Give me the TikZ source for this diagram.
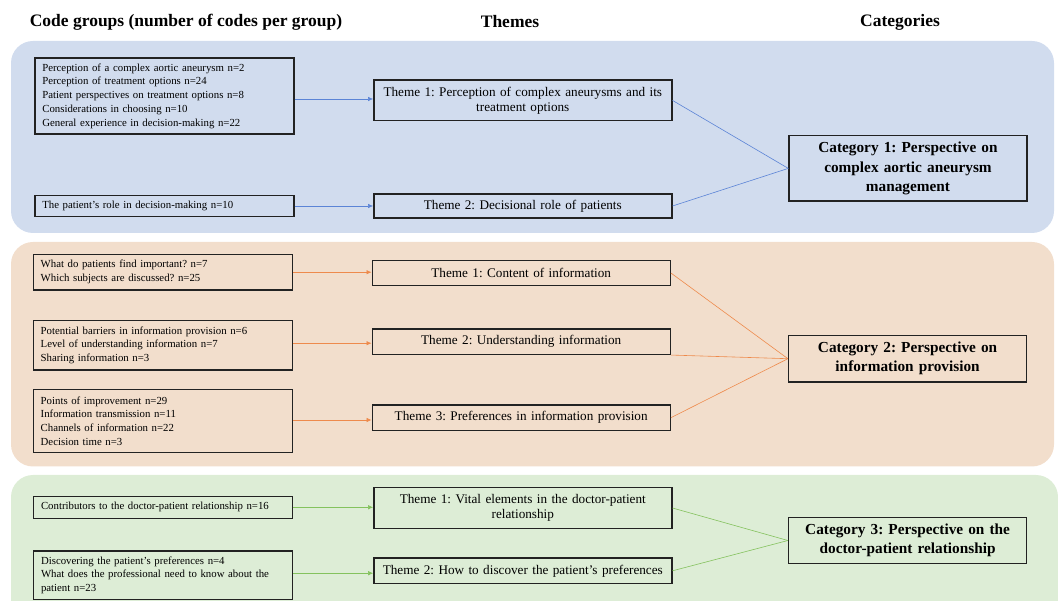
\documentclass[tikz,border=0pt]{standalone}
\usepackage{fontspec}
\setmainfont{Liberation Serif}
\usetikzlibrary{arrows.meta}
\frenchspacing

\definecolor{panelblue}{HTML}{D1DCEE}
\definecolor{panelorange}{HTML}{F2DECC}
\definecolor{panelgreen}{HTML}{DDEDD6}
\definecolor{lineblue}{HTML}{5B84D6}
\definecolor{lineorange}{HTML}{EE8A4C}
\definecolor{linegreen}{HTML}{84C25E}
\definecolor{boxline}{HTML}{222222}

\begin{document}
\begin{tikzpicture}[
    x=1pt,
    y=-1pt,
    panel/.style={
        rounded corners=22pt,
        draw=none,
        },
    codebox/.style={
        rectangle,
        draw=boxline,
        line width=1.4pt,
        text width=244pt,
        inner xsep=7.5pt,
        inner ysep=2pt,
        align=left,
        font=\fontsize{10.8}{13.8}\selectfont,
        },
    themebox/.style={
        rectangle,
        draw=boxline,
        line width=1.4pt,
        text width=286pt,
        inner xsep=6pt,
        inner ysep=2pt,
        align=center,
        font=\fontsize{13.2}{15}\selectfont,
        },
    catbox/.style={
        rectangle,
        draw=boxline,
        line width=1.4pt,
        text width=226pt,
        inner xsep=6pt,
        inner ysep=2pt,
        align=center,
        font=\bfseries\fontsize{15.3}{19.2}\selectfont,
        },
    header/.style={
        font=\bfseries\fontsize{17.5}{20}\selectfont
        },
    ArrowB/.style={
        -{Latex[length=5pt,width=4.5pt]},
        line width=0.6pt,
        draw=lineblue,
        },
    ArrowO/.style={
        -{Latex[length=5pt,width=4.5pt]},
        line width=0.6pt,
        draw=lineorange,
        },
    ArrowG/.style={
        -{Latex[length=5pt,width=4.5pt]},
        line width=0.6pt,
        draw=linegreen,
        },
    ]

    \useasboundingbox (0,0) rectangle (1058,601);

    % panels
    \fill [panel, panelblue] (11,41) rectangle (1054,233);
    \fill [panel, panelorange] (11,242) rectangle (1054,466.5);
    \fill [panel, panelgreen] (11,475) rectangle (1058,625);

    % headers
    \node [header] (hcode) at (186,22) {Code groups (number of codes per group)};
    \node [header] (htheme) at (510,22) {Themes};
    \node [header] (hcat) at (900,22) {Categories};

    % category 1
    \node [codebox, minimum height=76pt] (codeA) at (164.3,96) {Perception of a complex aortic aneurysm n=2\\
        Perception of treatment options n=24\\
        Patient perspectives on treatment options n=8\\
        Considerations in choosing n=10\\
        General experience in decision-making n=22};
    \node [codebox, minimum height=21pt] (codeB) at (164.3,206) {The patient’s role in decision-making n=10};
    \node [themebox, minimum height=40.7pt] (themeA) at (522.8,100.4) {Theme 1: Perception of complex aneurysms and its\\treatment options};
    \node [themebox, minimum height=24.3pt] (themeB) at (522.8,206) {Theme 2: Decisional role of patients};
    \node [catbox, minimum height=65.3pt] (catA) at (908,168.4) {Category 1: Perspective on\\complex aortic aneurysm\\management};

    % category 2
    \node [codebox, minimum height=35.7pt] (codeC) at (162.7,272.2) {What do patients find important? n=7\\
        Which subjects are discussed? n=25};
    \node [codebox, minimum height=49.5pt] (codeD) at (162.7,345.3) {Potential barriers in information provision n=6\\
        Level of understanding information n=7\\
        Sharing information n=3};
    \node [codebox, minimum height=63pt] (codeE) at (162.7,421) {Points of improvement n=29\\
        Information transmission n=11\\
        Channels of information n=22\\
        Decision time n=3};
    \node [themebox, minimum height=25.3pt] (themeC) at (521.2,273) {Theme 1: Content of information};
    \node [themebox, minimum height=25.3pt] (themeD) at (521.2,341.7) {Theme 2: Understanding information};
    \node [themebox, minimum height=25.4pt] (themeE) at (521.2,417.7) {Theme 3: Preferences in information provision};
    \node [catbox, minimum height=46.7pt] (catB) at (907.6,358.7) {Category 2: Perspective on\\information provision};

    % category 3
    \node [codebox, minimum height=22pt] (codeF) at (163,507.4) {Contributors to the doctor-patient relationship n=16};
    \node [codebox, minimum height=48.7pt] (codeG) at (163,575.2) {Discovering the patient’s preferences n=4\\
        What does the professional need to know about the\\
        patient n=23};
    \node [themebox, minimum height=41pt] (themeF) at (522.8,508) {Theme 1: Vital elements in the doctor-patient\\relationship};
    \node [themebox, minimum height=25.5pt] (themeG) at (522.8,570.8) {Theme 2: How to discover the patient’s preferences};
    \node [catbox, minimum height=46.5pt] (catC) at (907.6,540.5) {Category 3: Perspective on the\\doctor-patient relationship};

    \draw [ArrowB] (codeA.east |- 0,99) -- (themeA.west |- 0,99);
    \draw [ArrowB] (codeB) -- (themeB);
    \draw [ArrowO] (codeC.east |- 0,272.2) -- (themeC.west |- 0,272.2);
    \draw [ArrowO] (codeD.east |- 0,343.2) -- (themeD.west |- 0,343.2);
    \draw [ArrowO] (codeE.east |- 0,420) -- (themeE.west |- 0,420);
    \draw [ArrowG] (codeF.east |- 0,507.3) -- (themeF.west |- 0,507.3);
    \draw [ArrowG] (codeG.east |- 0,573.2) -- (themeG.west |- 0,573.2);

    \draw [ArrowB, -] (themeA.east) -- (catA.west);
    \draw [ArrowB, -] (themeB.east) -- (catA.west);
    \draw [ArrowO, -] (themeC.east) -- (catB.west);
    \draw [ArrowO, -] (themeD.south east) -- (catB.west);
    \draw [ArrowO, -] (themeE.east) -- (catB.west);
    \draw [ArrowG, -] (themeF.east) -- (catC.west);
    \draw [ArrowG, -] (themeG.east) -- (catC.west);

\end{tikzpicture}
\end{document}
